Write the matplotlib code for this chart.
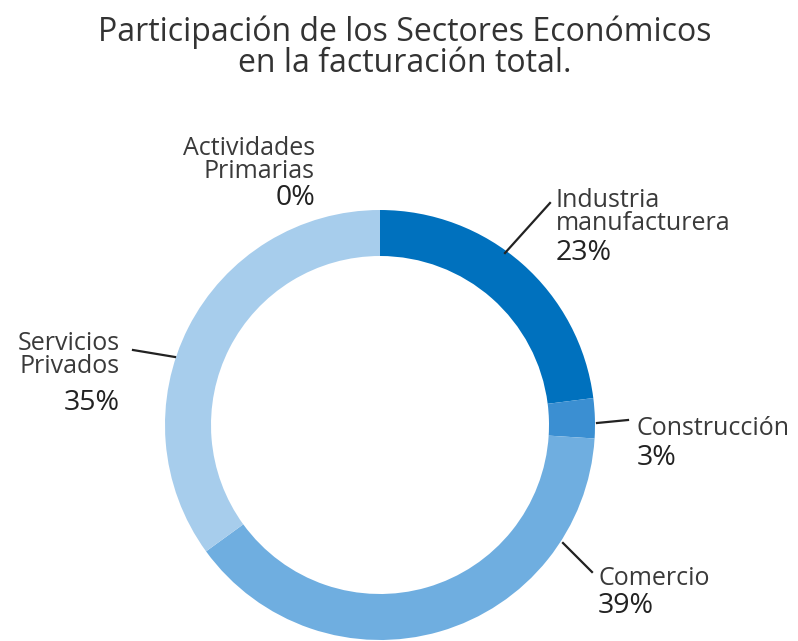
import matplotlib.pyplot as plt

plt.rcParams['font.family'] = ['Open Sans', 'DejaVu Sans']

# datos
titulo = 'Participación de los Sectores Económicos\nen la facturación total.'
sectores = ['Industria\nmanufacturera', 'Construcción', 'Comercio', 'Servicios\nPrivados', 'Actividades\nPrimarias']
valores = [23, 3, 39, 35, 0]
colores = ['#0071BE', '#3B8FD2', '#6FAEE0', '#A7CDEC', '#A7CDEC']

W, H = 798, 641
fig = plt.figure(figsize=(W / 100, H / 100), dpi=100)
ax = fig.add_axes([0, 0, 1, 1])

cx, cy = 380, H - 425   # centro del anillo (px)
R = 215
ancho = 46

ax.pie(valores, colors=colores, startangle=90, counterclock=False,
       center=(cx, cy), radius=R, frame=True,
       wedgeprops=dict(width=ancho, edgecolor='none', linewidth=0))

ax.set_xlim(0, W)
ax.set_ylim(0, H)
ax.set_aspect('equal')
ax.axis('off')

# titulo (una sola caja de texto, dos lineas)
ax.text(405, H - 72, titulo, ha='center', va='baseline', multialignment='center',
        fontsize=23, color='#333333', linespacing=0.92)

gris = '#3a3a3a'
fs = 18
fsp = 20.5

# etiquetas: x, alineacion y lineas base (px desde arriba)
pos = [(556, 'left', [207, 230, 260]),
       (637, 'left', [435, 465]),
       (598, 'left', [585, 613]),
       (120, 'right', [350, 373, 410]),
       (315, 'right', [155, 178, 205])]
for nom, v, (x, ha, bases) in zip(sectores, valores, pos):
    for linea, b in zip(nom.split('\n'), bases[:-1]):
        ax.text(x, H - b, linea, ha=ha, va='baseline', fontsize=fs, color=gris)
    ax.text(x, H - bases[-1], f'{v}%', ha=ha, va='baseline', fontsize=fsp, color='#222222')

# lineas guia
lineas = [((550, 203), (505, 253)), ((597, 423), (628, 420)),
          ((563, 543), (592, 572)), ((133, 350), (175, 357))]
for (x0, y0), (x1, y1) in lineas:
    ax.plot([x0, x1], [H - y0, H - y1], color='#222222', lw=1.6)

fig.savefig('out.png', dpi=100, facecolor='white')
